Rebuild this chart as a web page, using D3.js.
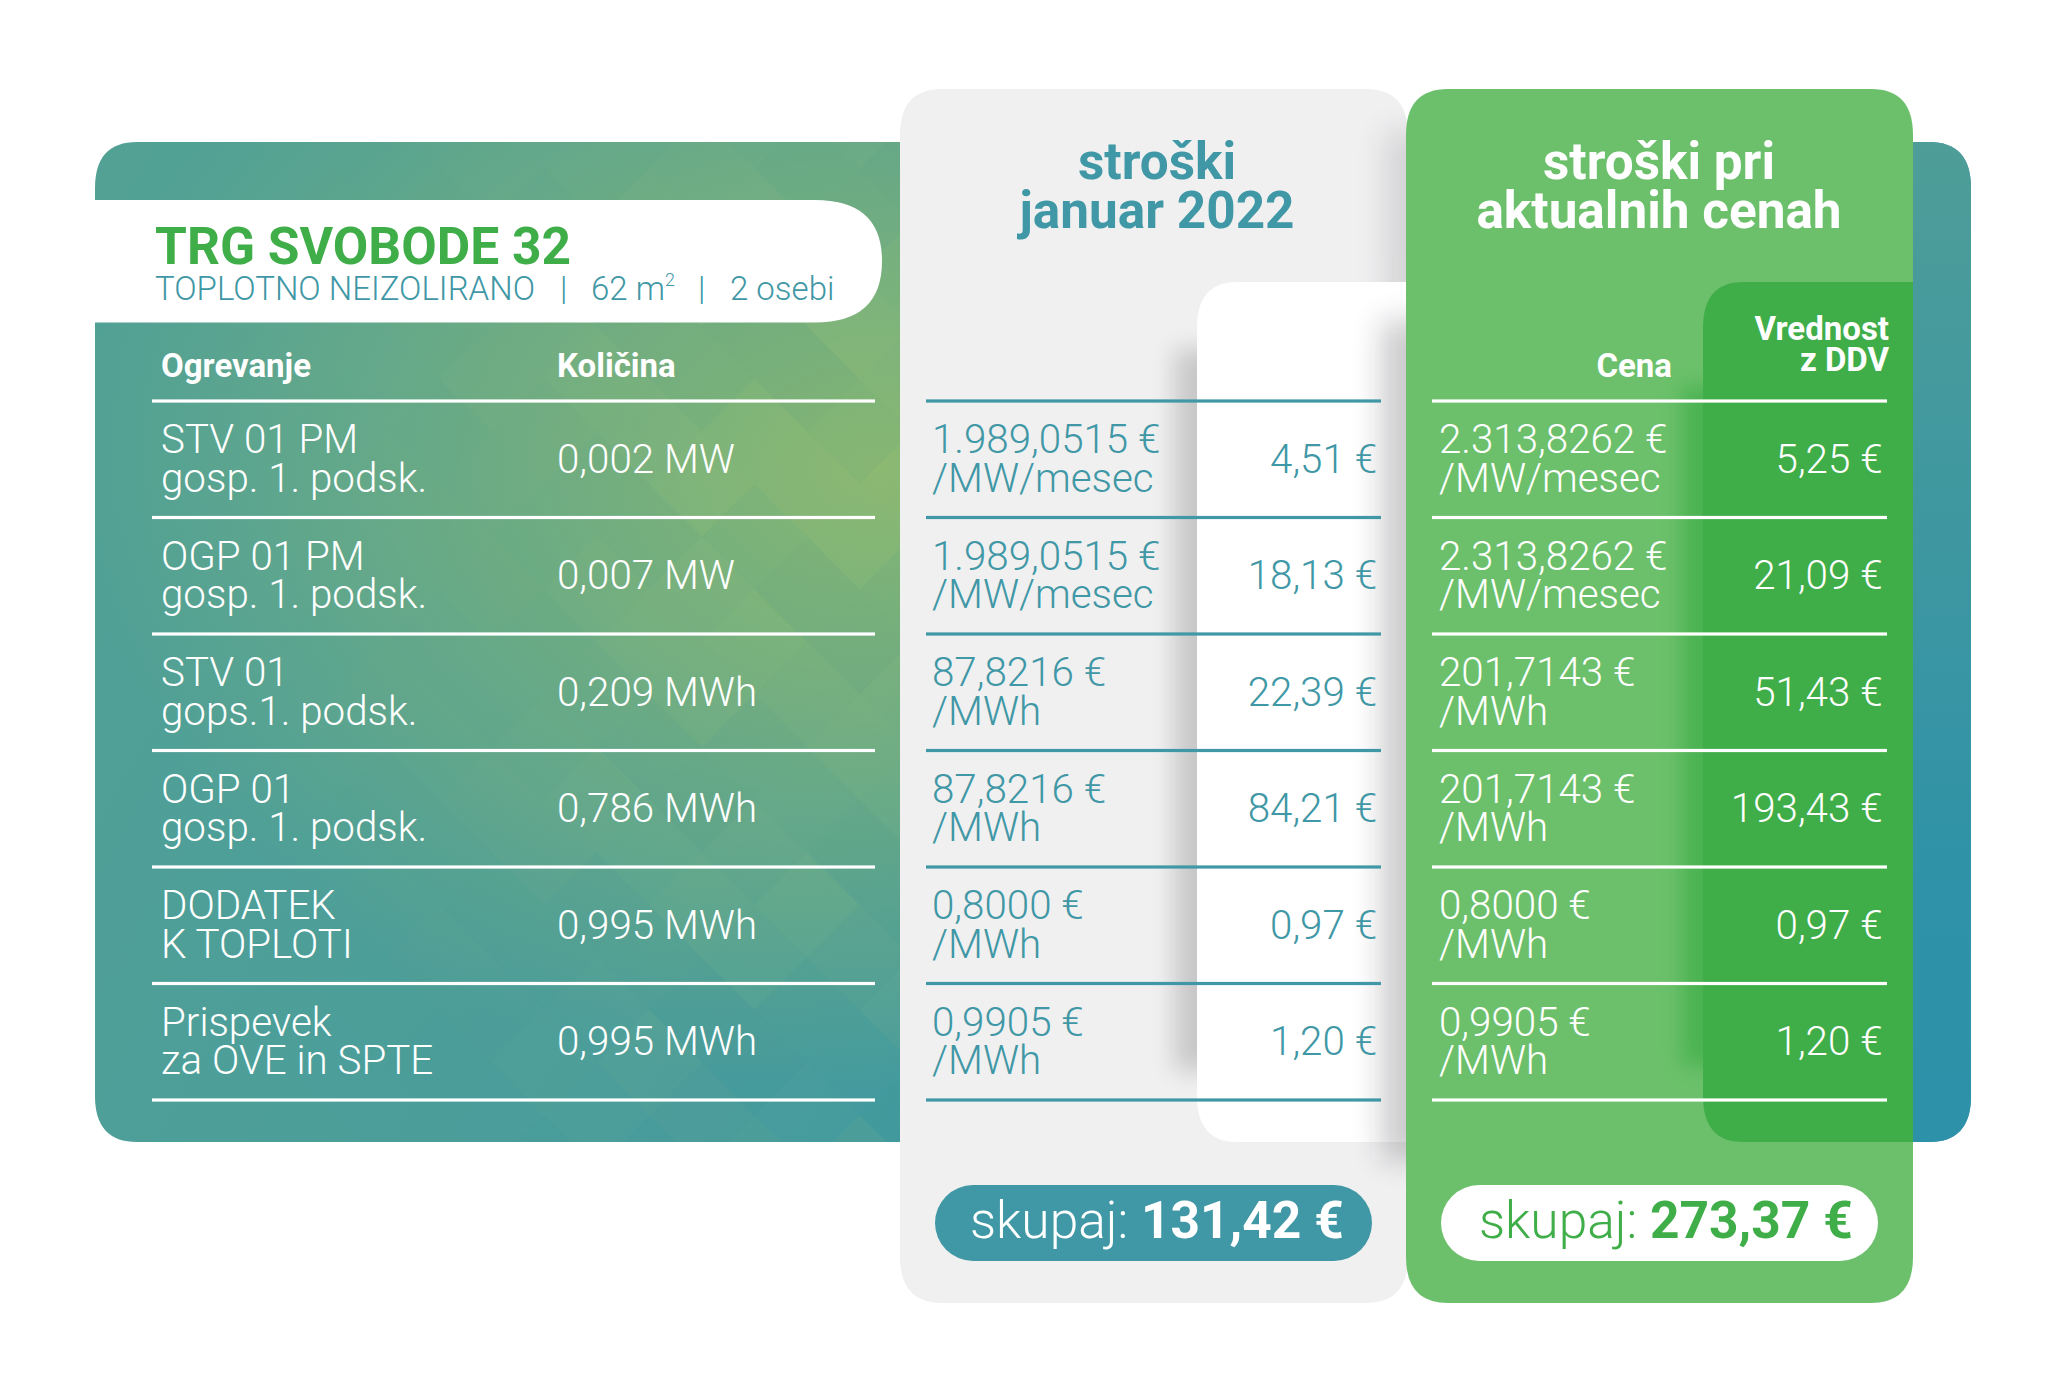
<!DOCTYPE html>
<html lang="sl">
<head>
<meta charset="UTF-8">
<title>Trg Svobode 32</title>
<script src="https://d3js.org/d3.v7.min.js"></script>
<style>
    html, body { margin: 0; padding: 0; background: #fff; }
    svg { display: block; }
    text { font-family: Roboto, sans-serif; font-weight: 300; white-space: pre; }
    .bold { font-weight: 700; }
</style>
</head>
<body>
<div id="chart"></div>
<script>
const rowLabels = [
    ["STV 01 PM", "gosp. 1. podsk."],
    ["OGP 01 PM", "gosp. 1. podsk."],
    ["STV 01", "gops.1. podsk."],
    ["OGP 01", "gosp. 1. podsk."],
    ["DODATEK", "K TOPLOTI"],
    ["Prispevek", "za OVE in SPTE"]
];
const quantities = ["0,002 MW", "0,007 MW", "0,209 MWh", "0,786 MWh", "0,995 MWh", "0,995 MWh"];
const janPrices = [
    ["1.989,0515 €", "/MW/mesec"],
    ["1.989,0515 €", "/MW/mesec"],
    ["87,8216 €", "/MWh"],
    ["87,8216 €", "/MWh"],
    ["0,8000 €", "/MWh"],
    ["0,9905 €", "/MWh"]
];
const janValues = ["4,51 €", "18,13 €", "22,39 €", "84,21 €", "0,97 €", "1,20 €"];
const curPrices = [
    ["2.313,8262 €", "/MW/mesec"],
    ["2.313,8262 €", "/MW/mesec"],
    ["201,7143 €", "/MWh"],
    ["201,7143 €", "/MWh"],
    ["0,8000 €", "/MWh"],
    ["0,9905 €", "/MWh"]
];
const curValues = ["5,25 €", "21,09 €", "51,43 €", "193,43 €", "0,97 €", "1,20 €"];
const titleMain = "TRG SVOBODE 32";
const titleKind = "TOPLOTNO NEIZOLIRANO";
const titleArea = "62 m";
const titlePeople = "2 osebi";
const janHead = ["stroški", "januar 2022"];
const curHead = ["stroški pri", "aktualnih cenah"];
const totalLabel = "skupaj: ";
const janTotal = "131,42 €";
const curTotal = "273,37 €";
// tint of the background lozenges, repeats over the lattice
const tintPattern = [0.07, -0.06, 0.03, -0.03, 0.09, -0.05, 0.02, 0.05, -0.07];

const teal = "#4097a5", green = "#3fae49", lightGreen = "#6cc06b", grey = "#f0f0f1";

const svg = d3.select("#chart").append("svg").attr("width", 2054).attr("height", 1396);
const defs = svg.append("defs");

const rowY = d3.scaleBand().domain(d3.range(rowLabels.length)).range([401, 1100]);
const size = 40.3, line1 = 52, line2 = 90.5, mid = 71.5;

function roundedLeft(x0, x1, y0, y1, rx, ry) {
    return `M${x1},${y0}H${x0 + rx}Q${x0},${y0} ${x0},${y0 + ry}V${y1 - ry}Q${x0},${y1} ${x0 + rx},${y1}H${x1}Z`;
}
function rounded(x0, x1, y0, y1, rx, ry) {
    return `M${x0 + rx},${y0}H${x1 - rx}Q${x1},${y0} ${x1},${y0 + ry}V${y1 - ry}Q${x1},${y1} ${x1 - rx},${y1}H${x0 + rx}Q${x0},${y1} ${x0},${y1 - ry}V${y0 + ry}Q${x0},${y0} ${x0 + rx},${y0}Z`;
}

// gradients and filters
const base = defs.append("linearGradient").attr("id", "base").attr("gradientUnits", "userSpaceOnUse")
    .attr("x1", 95).attr("y1", 142).attr("x2", 1900).attr("y2", 1141);
base.append("stop").attr("offset", 0).attr("stop-color", "#52a194");
base.append("stop").attr("offset", 0.45).attr("stop-color", "#4a9d9c");
base.append("stop").attr("offset", 1).attr("stop-color", "#2d91a9");
const strip = defs.append("linearGradient").attr("id", "strip").attr("gradientUnits", "userSpaceOnUse")
    .attr("x1", 0).attr("y1", 142).attr("x2", 0).attr("y2", 1142);
strip.append("stop").attr("offset", 0).attr("stop-color", "#4e9d98");
strip.append("stop").attr("offset", 0.75).attr("stop-color", "#2f92a8");
strip.append("stop").attr("offset", 1).attr("stop-color", "#2d91a9");
const glow = defs.append("radialGradient").attr("id", "glow").attr("gradientUnits", "userSpaceOnUse")
    .attr("cx", 0).attr("cy", 0).attr("r", 1)
    .attr("gradientTransform", "translate(880,470) scale(800,620)");
glow.append("stop").attr("offset", 0).attr("stop-color", "#8ab872").attr("stop-opacity", 1);
glow.append("stop").attr("offset", 0.4).attr("stop-color", "#8ab872").attr("stop-opacity", 0.62);
glow.append("stop").attr("offset", 1).attr("stop-color", "#8ab872").attr("stop-opacity", 0);

[["blur12", 12], ["blur15", 15], ["blur10", 10]].forEach(([id, s]) => {
    defs.append("filter").attr("id", id)
        .attr("filterUnits", "userSpaceOnUse").attr("x", 0).attr("y", 0).attr("width", 2054).attr("height", 1396)
        .append("feGaussianBlur").attr("stdDeviation", s);
});

const panelPath = rounded(95, 1971, 142, 1142, 42, 46);
const greyPath = rounded(900, 1408, 89, 1303, 42, 46);
const greenPath = rounded(1406, 1913, 89, 1303, 42, 46);
defs.append("clipPath").attr("id", "panelClip").append("path").attr("d", panelPath);
defs.append("clipPath").attr("id", "greyClip").append("path").attr("d", greyPath);
defs.append("clipPath").attr("id", "greenClip").append("path").attr("d", greenPath);

// back panel
svg.append("path").attr("d", panelPath).attr("fill", "url(#base)");
svg.append("rect").attr("x", 1890).attr("y", 142).attr("width", 90).attr("height", 1000)
    .attr("fill", "url(#strip)").attr("clip-path", "url(#panelClip)");
svg.append("rect").attr("x", 95).attr("y", 142).attr("width", 810).attr("height", 1000)
    .attr("fill", "url(#glow)").attr("clip-path", "url(#panelClip)");

// lozenges
const step = 52.6;
const lattice = [];
d3.range(-14, 4).forEach(i => d3.range(-6, 15).forEach(j => {
    if ((i + j) % 2 === 0) lattice.push([i, j]);
}));
svg.append("g").attr("clip-path", "url(#panelClip)").selectAll("path").data(lattice).join("path")
    .attr("d", ([i, j]) => {
        const cx = 807 + i * step, cy = 484 + j * step;
        return `M${cx},${cy - step}L${cx + step},${cy}L${cx},${cy + step}L${cx - step},${cy}Z`;
    })
    .attr("fill", ([i, j]) => tintPattern[Math.abs(i * 2 + j * 5) % tintPattern.length] > 0 ? "#a6c878" : "#2f8f8f")
    .attr("fill-opacity", ([i, j]) => {
        const fade = Math.min(1, Math.max(0, (807 + i * step - 300) / 400));
        return Math.abs(tintPattern[Math.abs(i * 2 + j * 5) % tintPattern.length]) * 0.85 * fade;
    });

// title pill
svg.append("path").attr("d", `M95,200H815Q882,200 882,261Q882,322.5 815,322.5H95Z`).attr("fill", "#fff");
svg.append("text").attr("class", "bold").attr("x", 155).attr("y", 263.5).attr("font-size", 51.5).attr("fill", green).text(titleMain);
const sub = svg.append("text").attr("y", 300).attr("font-size", 33).attr("fill", teal);
sub.append("tspan").attr("x", 155).text(titleKind);
sub.append("tspan").attr("x", 560).text("|");
sub.append("tspan").attr("x", 591).text(titleArea);
sub.append("tspan").attr("font-size", 18).attr("dy", -14).text("2");
sub.append("tspan").attr("x", 698).attr("dy", 14).text("|");
sub.append("tspan").attr("x", 730).text(titlePeople);

// grey column and shadows
svg.append("path").attr("d", greyPath).attr("fill", grey);
const greyShade = svg.append("g").attr("clip-path", "url(#greyClip)");
greyShade.append("rect").attr("x", 1175).attr("y", 349).attr("width", 60).attr("height", 722)
    .attr("fill", "#000").attr("opacity", 0.17).attr("filter", "url(#blur12)");
greyShade.append("rect").attr("x", 1385).attr("y", 130).attr("width", 70).attr("height", 200)
    .attr("fill", "#14181c").attr("opacity", 0.12).attr("filter", "url(#blur15)");
greyShade.append("path").attr("d", roundedLeft(1197, 1408, 282, 1142, 40, 46)).attr("fill", "#fff");
greyShade.append("rect").attr("x", 1382).attr("y", 320).attr("width", 70).attr("height", 840)
    .attr("fill", "#14181c").attr("opacity", 0.22).attr("filter", "url(#blur15)");

// green column
svg.append("path").attr("d", greenPath).attr("fill", lightGreen);
const greenShade = svg.append("g").attr("clip-path", "url(#greenClip)");
greenShade.append("rect").attr("x", 1682).attr("y", 386).attr("width", 60).attr("height", 680)
    .attr("fill", green).attr("opacity", 0.75).attr("filter", "url(#blur10)");
greenShade.append("path").attr("d", roundedLeft(1703, 1913, 282, 1142, 40, 46)).attr("fill", green);

// rule lines
function rules(x0, x1, color) {
    svg.append("g").selectAll("rect").data(d3.range(rowLabels.length + 1)).join("rect")
        .attr("x", x0).attr("width", x1 - x0).attr("height", 3.2)
        .attr("y", i => rowY(0) + i * rowY.step() - 1.6)
        .attr("fill", color);
}
rules(152, 875, "#fff");
rules(926, 1381, teal);
rules(1432, 1887, "#fff");

// two line cell and one line cell writers
function twoLine(data, x, color) {
    const g = svg.append("g").attr("fill", color).attr("font-size", size);
    data.forEach((lines, i) => {
        g.append("text").attr("x", x).attr("y", rowY(i) + line1).text(lines[0]);
        g.append("text").attr("x", x).attr("y", rowY(i) + line2).text(lines[1]);
    });
}
function oneLine(data, x, color, anchor) {
    svg.append("g").selectAll("text").data(data).join("text")
        .attr("x", x).attr("y", (d, i) => rowY(i) + mid)
        .attr("text-anchor", anchor).attr("font-size", size).attr("fill", color).text(d => d);
}
twoLine(rowLabels, 161, "#fff");
oneLine(quantities, 557, "#fff", "start");
twoLine(janPrices, 932, teal);
oneLine(janValues, 1377, teal, "end");
twoLine(curPrices, 1439, "#fff");
oneLine(curValues, 1882.5, "#fff", "end");

// headers
function head(t, x, y, fs, color, anchor) {
    svg.append("text").attr("class", "bold").attr("x", x).attr("y", y).attr("font-size", fs)
        .attr("fill", color).attr("text-anchor", anchor).text(t);
}
head("Ogrevanje", 161, 377, 33, "#fff", "start");
head("Količina", 557, 377, 33, "#fff", "start");
head("Cena", 1672, 377, 33, "#fff", "end");
head("Vrednost", 1889, 339.5, 33, "#fff", "end");
head("z DDV", 1889, 370.5, 33, "#fff", "end");
head(janHead[0], 1157, 179, 51.3, teal, "middle");
head(janHead[1], 1157, 228, 51.3, teal, "middle");
head(curHead[0], 1659, 179, 51.3, "#fff", "middle");
head(curHead[1], 1659, 228, 51.3, "#fff", "middle");

// totals
function total(x0, x1, textX, fill, color, value) {
    svg.append("rect").attr("x", x0).attr("y", 1185).attr("width", x1 - x0).attr("height", 76)
        .attr("rx", 38).attr("ry", 38).attr("fill", fill);
    const t = svg.append("text").attr("x", textX).attr("y", 1238).attr("font-size", 51.5).attr("fill", color);
    t.append("tspan").text(totalLabel);
    t.append("tspan").attr("class", "bold").text(value);
}
total(935, 1372, 970, teal, "#fff", janTotal);
total(1441, 1878, 1479, "#fff", green, curTotal);
</script>
</body>
</html>
